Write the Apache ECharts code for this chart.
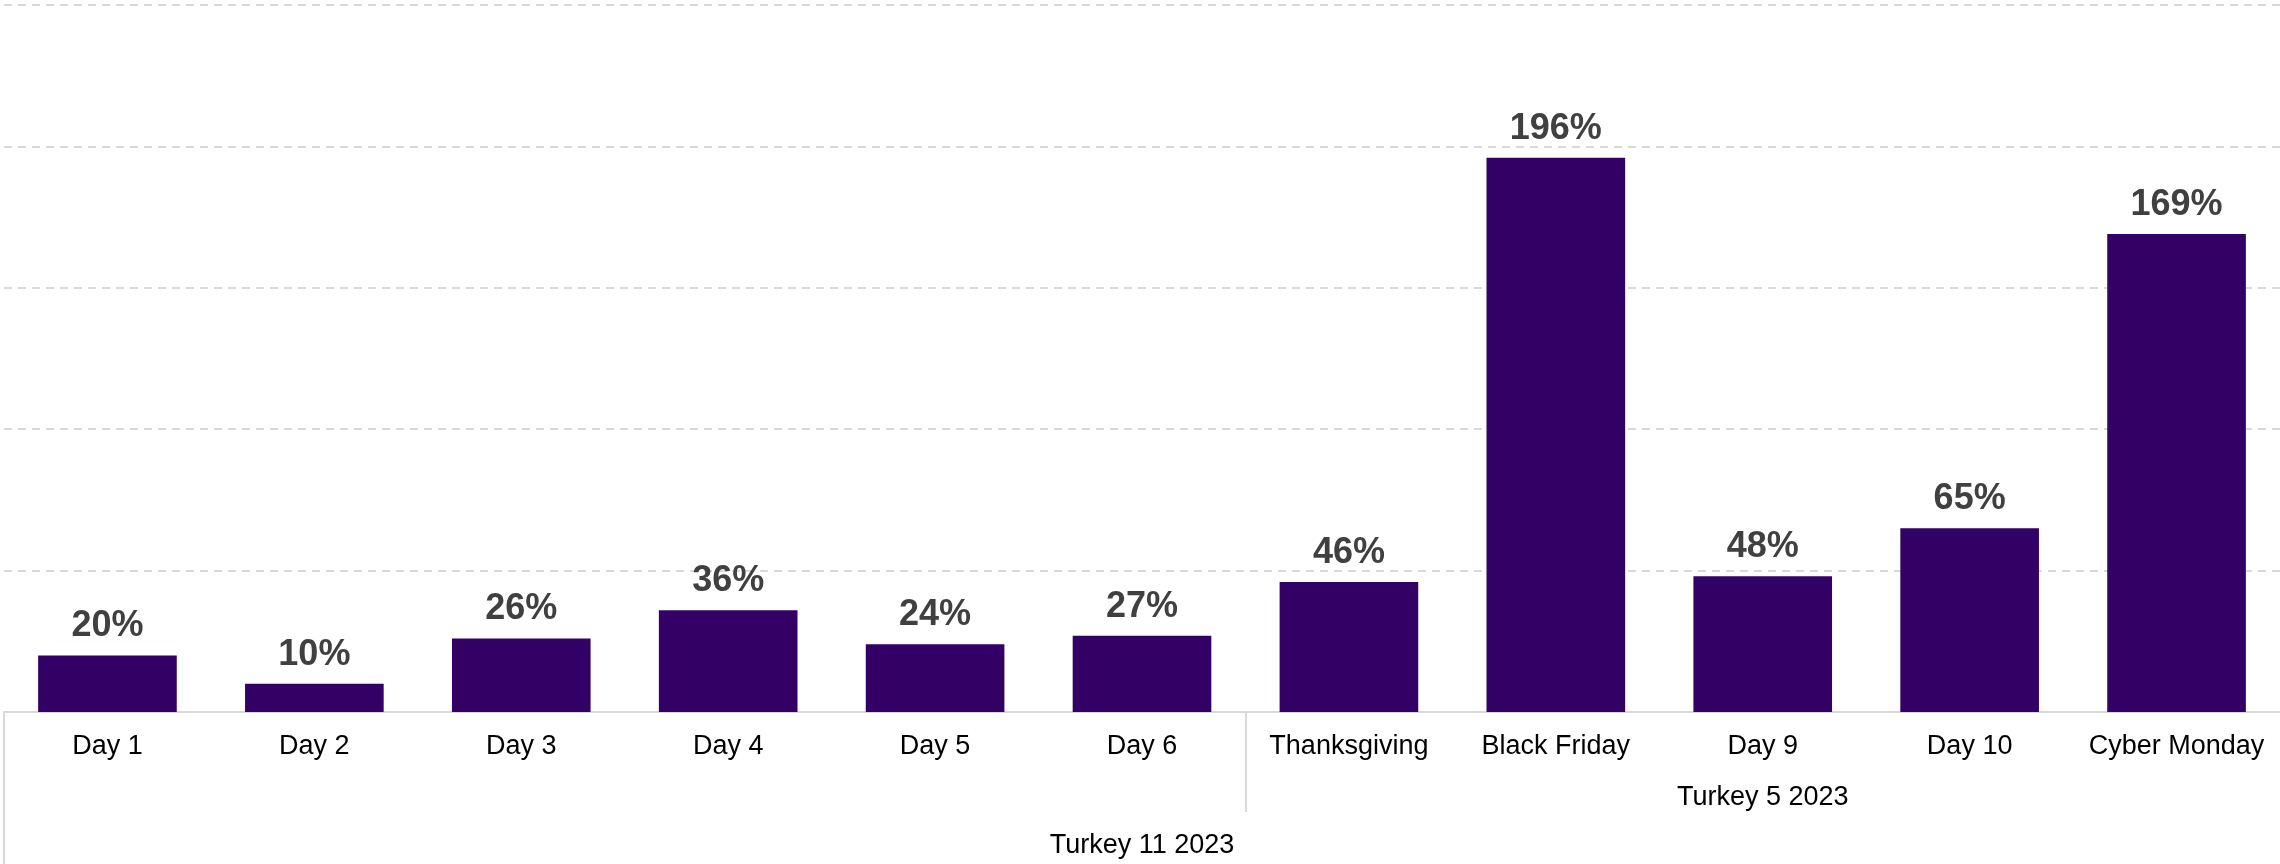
<!DOCTYPE html>
<html>
<head>
<meta charset="utf-8">
<script src="https://cdn.jsdelivr.net/npm/echarts@6/dist/echarts.min.js"></script>
<style>
  html, body { margin: 0; padding: 0; background: #fff; }
  #container { width: 2280px; height: 864px; }
</style>
</head>
<body>
<div id="container"></div>
<script>
// chart data
const categories = ['Day 1', 'Day 2', 'Day 3', 'Day 4', 'Day 5', 'Day 6',
  'Thanksgiving', 'Black Friday', 'Day 9', 'Day 10', 'Cyber Monday'];
const values = [20, 10, 26, 36, 24, 27, 46, 196, 48, 65, 169];
// group labels of the two outer axis levels
const innerGroup = 'Turkey 5 2023';   // last 5 days
const innerGroupStart = 6;
const outerGroup = 'Turkey 11 2023';  // whole range

const font = '"Liberation Sans", Arial, sans-serif';
const n = categories.length;

var dom = document.getElementById('container');
var myChart = echarts.init(dom, null, { renderer: 'canvas' });

// helper for the group levels: a value axis spanning the same bands as the categories
function groupAxis(tickAt, tickLen, labelAt, text, margin) {
  return {
    type: 'value',
    min: 0,
    max: n,
    position: 'bottom',
    axisLine: { show: false },
    splitLine: { show: false },
    axisTick: {
      show: true,
      length: tickLen,
      customValues: tickAt,
      lineStyle: { color: '#d9d9d9', width: 2 }
    },
    axisLabel: {
      color: '#000', fontFamily: font, fontSize: 27, margin: margin,
      customValues: [labelAt],
      formatter: () => text
    }
  };
}

var option = {
  animation: false,
  grid: { left: 4, right: 0, top: 5, bottom: 152, containLabel: false },
  xAxis: [
    {
      type: 'category',
      data: categories,
      position: 'bottom',
      axisLine: { show: true, lineStyle: { color: '#d9d9d9', width: 2 } },
      axisTick: { show: false },
      axisLabel: { color: '#000', fontFamily: font, fontSize: 27, margin: 21, interval: 0 }
    },
    groupAxis([innerGroupStart], 100, (innerGroupStart + n) / 2, innerGroup, 72),
    groupAxis([0], 152, n / 2, outerGroup, 120)
  ],
  yAxis: {
    type: 'value',
    min: 0,
    max: 250,
    interval: 50,
    axisLabel: { show: false },
    axisLine: { show: false },
    axisTick: { show: false },
    splitLine: { lineStyle: { color: '#d9d9d9', width: 2, type: [8, 6] } }
  },
  series: [
    {
      type: 'bar',
      data: values,
      barCategoryGap: '33%',
      itemStyle: { color: '#330066' },
      label: {
        show: true,
        position: 'top',
        distance: 11,
        color: '#404040',
        fontFamily: font,
        fontSize: 36,
        fontWeight: 'bold',
        formatter: (p) => p.value + '%'
      }
    }
  ]
};
myChart.setOption(option);
</script>
</body>
</html>
